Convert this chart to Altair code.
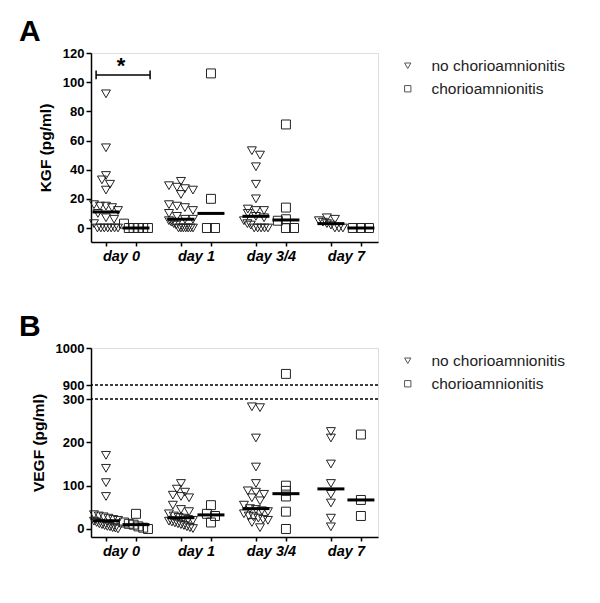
import altair as alt
import pandas as pd

days = ["day 0", "day 1", "day 3/4", "day 7"]
groups = ["no chorioamnionitis", "chorioamnionitis"]

# KGF (pg/ml), panel A
kgf_no = [
    [92, 55, 36, 33, 30, 26, 16, 15, 15, 14, 12, 10, 7, 6, 3, 0, 0, 0, 0, 0, 0, 0],
    [32, 29, 28, 27, 26, 23, 16, 15, 14, 12, 10, 8, 6, 6, 5, 4, 3, 2, 0, 0, 0, 0, 0, 0, 0],
    [53, 50, 42, 30, 20, 13, 12, 12, 10, 8, 7, 5, 3, 2, 0, 0, 0, 0, 0],
    [7, 6, 5, 4, 3, 2, 0, 0, 0],
]
kgf_ch = [
    [3, 0, 0, 0, 0, 0],
    [106, 20, 0, 0],
    [71, 14, 6, 5, 0, 0],
    [0, 0, 0],
]

# VEGF (pg/ml), panel B
vegf_no = [
    [170, 140, 107, 75, 33, 30, 28, 25, 22, 20, 18, 15, 12, 10, 8, 6, 5, 3, 2, 0],
    [105, 92, 85, 78, 75, 72, 55, 45, 40, 35, 30, 27, 25, 22, 20, 18, 16, 14, 12, 10, 8, 5, 3, 1],
    [282, 280, 210, 143, 105, 88, 85, 80, 72, 65, 55, 47, 45, 42, 40, 35, 30, 28, 25, 22, 20, 15, 3],
    [225, 210, 150, 105, 80, 60, 25, 5],
]
vegf_ch = [
    [35, 15, 12, 10, 6, 3, 0],
    [55, 35, 30, 15],
    [930, 100, 88, 75, 40, 0],
    [218, 67, 30],
]

kgf_ticks = [0, 20, 40, 60, 80, 100, 120]
vegf_ticks = [0, 100, 200, 300, 900, 1000]
vegf_breaks = [300, 900]

# significance bracket (day 0)
bracket = pd.DataFrame({"x1": [0.67], "x2": [2.47], "y": [105], "label": ["*"]})

FONT = "Liberation Sans"
W, H = 287, 189


def frame(no, ch):
    rows = []
    for i, d in enumerate(days):
        for j, (g, vals) in enumerate(zip(groups, (no[i], ch[i]))):
            for v in vals:
                rows.append({"day": d, "group": g, "pos": i * 2.5 + 1 + j, "value": v})
    return pd.DataFrame(rows)


tick_pos = [i * 2.5 + 1 + j for i in range(len(days)) for j in range(2)]
label_expr = " : ".join(
    f"datum.value == {i * 2.5 + 1} ? '{d}'" for i, d in enumerate(days)
) + " : ''"

xscale = alt.Scale(domain=[0.5, 10.07], nice=False, zero=False)
xaxis = alt.Axis(
    values=tick_pos, labelExpr=label_expr, labelOffset=15, title=None, grid=False,
    tickSize=4, tickWidth=1.5, tickColor="black", domainColor="black", domainWidth=1.5,
    labelFont=FONT, labelFontSize=14.5, labelFontStyle="italic", labelFontWeight="bold",
    labelColor="black", labelPadding=3, labelOverlap=False, labelBound=False,
)


def yaxis(title, ticks):
    return alt.Axis(
        values=ticks, title=title, grid=False, tickSize=5, tickWidth=1.5, format="d",
        tickColor="black", domainColor="black", domainWidth=1.5,
        labelFont=FONT, labelFontSize=13, labelFontWeight="bold", labelColor="black",
        labelPadding=2, titleFont=FONT, titleFontSize=15.5, titleFontWeight="bold",
        titleColor="black", titlePadding=9, labelOverlap=False, labelFlush=False,
    )


legend = alt.Legend(
    title=None, orient="none", legendX=309, legendY=5, symbolSize=40,
    symbolStrokeColor="#555", symbolStrokeWidth=1, symbolFillColor="transparent",
    labelFont=FONT, labelFontSize=15.5, labelColor="#222", labelOffset=16,
    rowPadding=6, padding=0,
)


def panel(df, yscale, ytitle, ticks, binw, letter, extra_fn=None):
    ya = yaxis(ytitle, ticks)

    def X(f):
        return alt.X(f, scale=xscale, axis=xaxis)

    def Y(f):
        return alt.Y(f, scale=yscale, axis=ya)

    base = alt.Chart(df)
    pts = base.transform_calculate(
        b=f"floor(datum.value / {binw})"
    ).transform_window(
        rank="row_number()", groupby=["pos", "b"]
    ).transform_joinaggregate(
        n="count()", groupby=["pos", "b"]
    ).transform_calculate(
        xj="datum.pos + (datum.rank - (datum.n + 1) / 2) * min(0.27, 0.8 / max(datum.n - 1, 1))"
    ).mark_point(filled=False, strokeWidth=1, color="#222", size=80, opacity=1).encode(
        x=X("xj:Q"),
        y=Y("value:Q"),
        shape=alt.Shape("group:N", scale=alt.Scale(domain=groups, range=["triangle-down", "square"]),
                        legend=legend),
    )
    med = base.transform_aggregate(
        med="median(value)", groupby=["pos"]
    ).transform_calculate(
        x1="datum.pos - 0.45", x2="datum.pos + 0.45"
    ).mark_rule(strokeWidth=3, color="black").encode(
        x=X("x1:Q"), x2="x2:Q", y=Y("med:Q")
    )
    layers = [pts, med]
    if extra_fn is not None:
        layers += extra_fn(X, Y)
    return alt.layer(*layers).properties(
        width=W, height=H,
        title=alt.TitleParams(letter, anchor="start", frame="group", fontSize=30, font=FONT,
                              fontWeight="bold", color="black", dx=-72, offset=0),
    )


def bracket_layers(X, Y):
    bcol = alt.Chart(bracket)
    bar = bcol.mark_rule(strokeWidth=1.5, color="black").encode(x=X("x1:Q"), x2="x2:Q", y=Y("y:Q"))
    capL = bcol.transform_calculate(y1="datum.y - 3", y2="datum.y + 3").mark_rule(
        strokeWidth=1.5, color="black").encode(x=X("x1:Q"), y=Y("y1:Q"), y2="y2:Q")
    capR = bcol.transform_calculate(y1="datum.y - 3", y2="datum.y + 3").mark_rule(
        strokeWidth=1.5, color="black").encode(x=X("x2:Q"), y=Y("y1:Q"), y2="y2:Q")
    star = bcol.transform_calculate(
        xm="(datum.x1 + datum.x2) / 2 - 0.07", ys="datum.y - 2"
    ).mark_text(
        font=FONT, fontSize=22, fontWeight="bold", color="black", baseline="bottom"
    ).encode(x=X("xm:Q"), y=Y("ys:Q"), text="label:N")
    return [bar, capL, capR, star]


def break_layers(X, Y):
    return [alt.Chart(pd.DataFrame({"y": vegf_breaks})).mark_rule(
        strokeDash=[3, 2], strokeWidth=1.5, color="black").encode(y=Y("y:Q"))]


dfA = frame(kgf_no, kgf_ch)
dfB = frame(vegf_no, vegf_ch)

yA = alt.Scale(domain=[-9.6, 120], nice=False, zero=False)
yB = alt.Scale(domain=[-18.5, 300, 900, 1000], range=[H, 51, 37, 0], nice=False, zero=False)

chartA = panel(dfA, yA, "KGF (pg/ml)", kgf_ticks, 6, "A", bracket_layers)
chartB = panel(dfB, yB, "VEGF (pg/ml)", vegf_ticks, 20, "B", break_layers)

chart = alt.vconcat(chartA, chartB, spacing=106, bounds="flush").resolve_scale(
    shape="independent", x="independent", y="independent"
).resolve_legend(shape="independent").properties(
    padding={"left": 10, "top": 8, "right": 5, "bottom": 5}
).configure_view(stroke=None).configure_axis(labelOverlap=False).configure(background="white")

chart.save("out.html", embed_options={"renderer": "svg", "actions": False})
